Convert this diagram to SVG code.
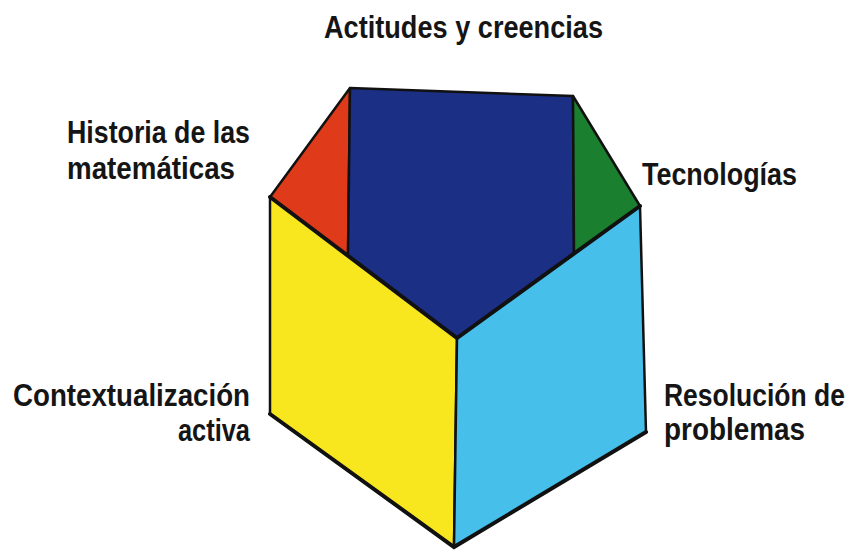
<svg xmlns="http://www.w3.org/2000/svg" width="854" height="550" viewBox="0 0 854 550">
<style>
.face{stroke:#111;stroke-width:2.5;stroke-linejoin:round}
.edge{fill:none;stroke:#111;stroke-linecap:round}
.lbl{font-family:"Liberation Sans",Arial,sans-serif;font-weight:bold;font-size:31px;fill:#151515}
</style>
<rect width="854" height="550" fill="#fff"/>
<g id="historia">
<polygon class="face" fill="#DF3A19" points="270,197 350,88 348,257"/>
</g>
<g id="actitudes">
<polygon class="face" fill="#1B2F85" points="350,88 573,96 574,255 457,338 348,257"/>
</g>
<g id="tecnologias">
<polygon class="face" fill="#1A7F2F" points="573,96 640,206 574,255"/>
</g>
<g id="contextualizacion">
<polygon class="face" fill="#F8E71F" points="270,197 457,338 454,547 270,414"/>
</g>
<g id="resolucion">
<polygon class="face" fill="#46C0EA" points="457,338 640,206 646,432 454,547"/>
</g>
<g id="edges">
<polyline class="edge" stroke-width="4" points="270,197 457,338 640,206"/>
<polyline class="edge" stroke-width="4" points="270,414 454,547 646,432"/>
</g>
<g id="labels">
<text class="lbl" x="324" y="38" textLength="279" lengthAdjust="spacingAndGlyphs">Actitudes y creencias</text>
<text class="lbl" x="67" y="143" textLength="183" lengthAdjust="spacingAndGlyphs">Historia de las</text>
<text class="lbl" x="67" y="179" textLength="168" lengthAdjust="spacingAndGlyphs">matemáticas</text>
<text class="lbl" x="642" y="185" textLength="155" lengthAdjust="spacingAndGlyphs">Tecnologías</text>
<text class="lbl" x="13" y="406" textLength="237" lengthAdjust="spacingAndGlyphs">Contextualización</text>
<text class="lbl" x="178" y="441" textLength="72" lengthAdjust="spacingAndGlyphs">activa</text>
<text class="lbl" transform="translate(664,406) scale(0.854,1)">Resolución de</text>
<text class="lbl" transform="translate(664,440) scale(0.9,1)">problemas</text>
</g>
</svg>
